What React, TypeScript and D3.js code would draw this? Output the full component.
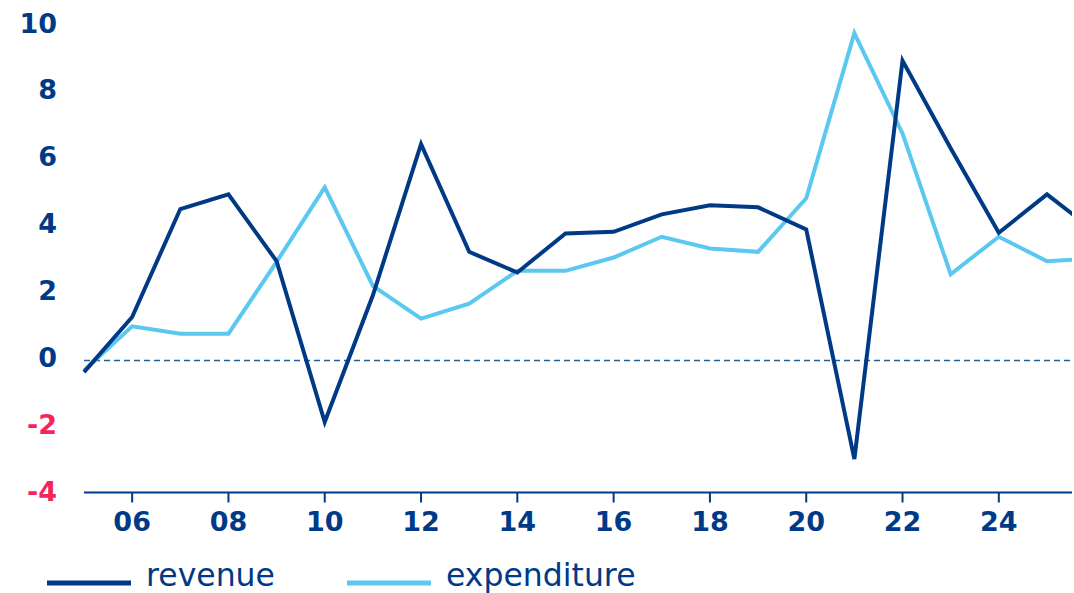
import React from "react";
import * as d3 from "d3";

const years = [2005, 2006, 2007, 2008, 2009, 2010, 2011, 2012, 2013, 2014, 2015, 2016, 2017, 2018, 2019, 2020, 2021, 2022, 2023, 2024, 2025, 2026];
const revenue = [-0.4, 1.25, 4.48, 4.92, 2.92, -1.89, 1.9, 6.42, 3.2, 2.58, 3.75, 3.8, 4.32, 4.59, 4.53, 3.87, -3.0, 8.92, 6.3, 3.77, 4.92, 3.8];
const expenditure = [-0.35, 0.97, 0.75, 0.75, 2.9, 5.13, 2.18, 1.2, 1.65, 2.63, 2.63, 3.03, 3.65, 3.3, 3.2, 4.8, 9.74, 6.74, 2.53, 3.65, 2.92, 3.0];
const yTicks = [-4, -2, 0, 2, 4, 6, 8, 10];
const xTicks = [2006, 2008, 2010, 2012, 2014, 2016, 2018, 2020, 2022, 2024];
const seriesNames = ["revenue", "expenditure"];

const NAVY = "#003a87";
const LIGHT = "#5bc8f0";
const PINK = "#f5275a";
const FONT = "'DejaVu Sans', sans-serif";

export default function App() {
  const x = d3.scaleLinear().domain([2005, 2025.52]).range([84, 1072]);
  const y = d3.scaleLinear().domain([-4, 10]).range([492.5, 24.5]);
  const line = d3
    .line<[number, number]>()
    .x((d) => x(d[0]))
    .y((d) => y(d[1]));
  const revPts = years.map((yr, i) => [yr, revenue[i]] as [number, number]);
  const expPts = years.map((yr, i) => [yr, expenditure[i]] as [number, number]);
  const [x0, x1] = x.range();

  return (
    <svg
      width={1074}
      height={593}
      style={{ position: "absolute", left: 0, top: 0, background: "#fff" }}
      fontFamily={FONT}
    >
      <defs>
        <clipPath id="plotclip">
          <rect x={x0 - 4} y={0} width={x1 - x0 + 4} height={593} />
        </clipPath>
      </defs>
      {yTicks.map((t) => (
        <text
          key={t}
          x={57}
          y={y(t) + 8}
          textAnchor="end"
          fontSize={27}
          fontWeight={700}
          fill={t < 0 ? PINK : NAVY}
        >
          {t}
        </text>
      ))}
      <line
        x1={x0}
        x2={x1}
        y1={y(-0.05)}
        y2={y(-0.05)}
        stroke="#1d5f96"
        strokeWidth={1.6}
        strokeDasharray="6,4"
      />
      <line x1={x0} x2={x1} y1={y(-4)} y2={y(-4)} stroke={NAVY} strokeWidth={2} />
      {xTicks.map((t) => (
        <g key={t}>
          <line x1={x(t)} x2={x(t)} y1={y(-4)} y2={y(-4) + 10} stroke={NAVY} strokeWidth={2} />
          <text
            x={x(t)}
            y={531}
            textAnchor="middle"
            fontSize={27}
            fontWeight={700}
            fill={NAVY}
          >
            {String(t % 100).padStart(2, "0")}
          </text>
        </g>
      ))}
      <g clipPath="url(#plotclip)">
        <path d={line(expPts) || ""} fill="none" stroke={LIGHT} strokeWidth={4} strokeLinejoin="miter" />
        <path d={line(revPts) || ""} fill="none" stroke={NAVY} strokeWidth={4} strokeLinejoin="miter" />
      </g>
      {seriesNames.map((name, i) => {
        const lx = i === 0 ? 47 : 347;
        return (
          <g key={name}>
            <line x1={lx} x2={lx + 84} y1={583} y2={583} stroke={i === 0 ? NAVY : LIGHT} strokeWidth={5} />
            <text x={lx + 99} y={586} fontSize={31.5} fontWeight={400} fill={NAVY}>
              {name}
            </text>
          </g>
        );
      })}
    </svg>
  );
}
